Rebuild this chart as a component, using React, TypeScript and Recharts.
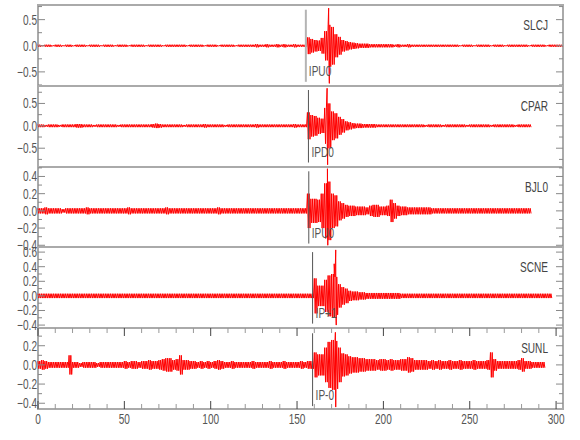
import {
  Line,
  LineChart,
  ReferenceArea,
  ReferenceDot,
  ReferenceLine,
  XAxis,
  YAxis,
} from "recharts";

// station traces, top to bottom
const stations = ["SLCJ", "CPAR", "BJL0", "SCNE", "SUNL"];
const pickLabels = ["IPU0", "IPD0", "IPU0", "IP+1", "IP-0"];
const pickTimes = [155.1, 156.6, 156.8, 159.0, 159.0];

// envelope half-width in 0.01 units, one value per 2 s bin
const slcjAmp = [
  2, 1, 2, 2, 1, 2, 2, 1, 2, 2,
  1, 2, 2, 2, 1, 2, 2, 2, 1, 2,
  2, 2, 1, 2, 2, 2, 1, 2, 2, 2,
  2, 1, 2, 2, 2, 2, 1, 2, 2, 2,
  2, 2, 2, 1, 2, 2, 2, 2, 1, 2,
  2, 2, 1, 2, 2, 2, 2, 1, 2, 2,
  2, 2, 2, 3, 2, 2, 3, 2, 2, 3,
  2, 3, 2, 2, 3, 2, 2, 2, 16, 13,
  11, 10, 15, 28, 40, 36, 22, 17, 11, 9,
  7, 6, 5, 4, 4, 4, 3, 3, 3, 3,
  3, 3, 3, 2, 3, 2, 2, 3, 2, 2,
  2, 2, 2, 2, 2, 2, 2, 2, 2, 2,
  2, 2, 1, 2, 2, 2, 1, 2, 2, 2,
  2, 1, 2, 2, 2, 1, 2, 2, 2, 2,
  2, 2, 1, 2, 2, 2, 2, 1, 2, 2,
  2, 2,
];
const cparAmp = [
  3, 3, 2, 3, 3, 3, 2, 3, 3, 3,
  3, 4, 4, 3, 3, 3, 2, 3, 3, 3,
  3, 3, 3, 2, 3, 3, 3, 3, 3, 3,
  3, 3, 3, 4, 5, 4, 3, 3, 3, 3,
  3, 3, 2, 3, 3, 3, 3, 3, 4, 3,
  3, 3, 3, 3, 2, 3, 3, 3, 3, 3,
  3, 3, 3, 4, 3, 3, 3, 3, 3, 3,
  3, 3, 3, 3, 4, 3, 3, 3, 30, 24,
  22, 18, 16, 40, 50, 32, 28, 20, 15, 10,
  8, 6, 5, 5, 4, 4, 4, 4, 3, 3,
  3, 3, 3, 3, 3, 3, 3, 3, 3, 3,
  3, 3, 2, 3, 3, 3, 3, 2, 3, 3,
  3, 3, 3, 3, 2, 3, 3, 3, 3, 3,
  3, 2, 3, 3, 3, 3, 3, 3, 2, 3,
  3, 3, 3,
];
const bjloAmp = [
  3, 3, 4, 3, 3, 3, 3, 2, 3, 3,
  3, 3, 3, 3, 4, 3, 3, 3, 3, 3,
  3, 3, 3, 3, 3, 3, 4, 3, 3, 3,
  3, 3, 3, 3, 3, 3, 3, 4, 3, 3,
  3, 3, 3, 3, 3, 3, 3, 3, 3, 3,
  3, 3, 4, 3, 3, 3, 3, 3, 3, 3,
  3, 3, 3, 3, 3, 3, 3, 3, 3, 3,
  3, 3, 3, 3, 3, 3, 3, 3, 20, 14,
  14, 13, 20, 32, 34, 20, 18, 11, 9, 7,
  6, 6, 5, 5, 5, 4, 6, 7, 7, 5,
  5, 6, 13, 9, 6, 5, 5, 4, 4, 4,
  4, 4, 4, 4, 3, 3, 3, 3, 3, 3,
  3, 3, 3, 3, 3, 3, 3, 3, 3, 3,
  3, 3, 3, 3, 3, 3, 3, 3, 3, 3,
  3, 3, 3,
];
const scneAmp = [
  3, 3, 3, 3, 3, 3, 3, 3, 3, 3,
  3, 3, 3, 3, 3, 3, 3, 3, 3, 3,
  3, 3, 3, 3, 3, 3, 3, 3, 3, 3,
  3, 3, 3, 3, 3, 3, 3, 3, 3, 3,
  3, 3, 3, 3, 3, 3, 3, 3, 3, 3,
  3, 3, 3, 3, 3, 3, 3, 3, 3, 3,
  3, 3, 3, 3, 3, 3, 3, 3, 3, 3,
  3, 3, 3, 3, 3, 3, 3, 3, 3, 3,
  24, 14, 14, 22, 28, 30, 26, 16, 12, 10,
  7, 6, 6, 5, 5, 4, 4, 4, 4, 4,
  4, 4, 4, 4, 4, 3, 3, 3, 3, 3,
  3, 3, 3, 3, 3, 3, 3, 3, 3, 3,
  3, 3, 3, 3, 3, 3, 3, 3, 3, 3,
  3, 3, 3, 3, 3, 3, 3, 3, 3, 3,
  3, 3, 3, 3, 3, 3, 3, 3, 3,
];
const sunlAmp = [
  4, 5, 4, 3, 3, 3, 3, 3, 3, 10,
  3, 3, 2, 3, 3, 3, 3, 2, 3, 3,
  3, 3, 3, 3, 3, 4, 3, 4, 4, 3,
  4, 4, 5, 4, 4, 5, 6, 7, 7, 5,
  6, 10, 5, 5, 4, 4, 3, 4, 3, 4,
  3, 4, 5, 4, 3, 3, 4, 3, 3, 3,
  3, 3, 4, 3, 3, 3, 3, 4, 3, 3,
  3, 4, 3, 3, 3, 3, 4, 3, 4, 4,
  13, 11, 11, 18, 24, 26, 25, 18, 12, 11,
  9, 8, 8, 7, 7, 6, 6, 6, 5, 6,
  6, 5, 6, 5, 5, 6, 6, 8, 7, 5,
  5, 5, 5, 4, 5, 4, 5, 4, 4, 5,
  4, 4, 5, 4, 4, 4, 5, 4, 4, 4,
  5, 13, 6, 4, 4, 4, 4, 4, 4, 5,
  7, 4, 4, 3, 3, 3, 3,
];

// single peaks that stand out of the envelope: [time, value]
const slcjSpikes = [[168.3, 0.72], [168.7, -0.72]];
const cparSpikes = [[167.4, 0.84], [167.7, -0.87]];
const bjloSpikes = [[167.6, 0.49], [167.8, -0.4]];
const scneSpikes = [[171.5, 0.44], [172.4, 0.63], [172.7, -0.4]];
const sunlSpikes = [[172.2, 0.34], [172.4, -0.44]];

const xTicks = [
  0, 10, 20, 30, 40, 50, 60, 70, 80, 90, 100, 110, 120, 130, 140, 150, 160,
  170, 180, 190, 200, 210, 220, 230, 240, 250, 260, 270, 280, 290, 300,
];

type PanelCfg = {
  amp: number[];
  spikes: number[][];
  domain: [number, number];
  ticks: number[];
  labels: number[];
  pickSpan: [number, number];
  pickLabelY: number;
  pickColor: string;
  pickWidth: number;
  top: number;
  height: number;
};

const panels: PanelCfg[] = [
  {
    amp: slcjAmp,
    spikes: slcjSpikes,
    domain: [-0.77, 0.78],
    ticks: [-0.75, -0.5, -0.25, 0, 0.25, 0.5, 0.75],
    labels: [-0.5, 0, 0.5],
    pickSpan: [-0.69, 0.69],
    pickLabelY: -0.49,
    pickColor: "#b4b4b4",
    pickWidth: 2,
    top: 5,
    height: 81,
  },
  {
    amp: cparAmp,
    spikes: cparSpikes,
    domain: [-0.92, 0.89],
    ticks: [-0.75, -0.5, -0.25, 0, 0.25, 0.5, 0.75],
    labels: [-0.5, 0, 0.5],
    pickSpan: [-0.82, 0.8],
    pickLabelY: -0.59,
    pickColor: "#555",
    pickWidth: 1,
    top: 86,
    height: 81,
  },
  {
    amp: bjloAmp,
    spikes: bjloSpikes,
    domain: [-0.42, 0.51],
    ticks: [-0.4, -0.3, -0.2, -0.1, 0, 0.1, 0.2, 0.3, 0.4, 0.5],
    labels: [-0.4, -0.2, 0, 0.2, 0.4],
    pickSpan: [-0.38, 0.46],
    pickLabelY: -0.26,
    pickColor: "#555",
    pickWidth: 1,
    top: 167,
    height: 80,
  },
  {
    amp: scneAmp,
    spikes: scneSpikes,
    domain: [-0.44, 0.67],
    ticks: [-0.4, -0.3, -0.2, -0.1, 0, 0.1, 0.2, 0.3, 0.4, 0.5, 0.6],
    labels: [-0.4, -0.2, 0, 0.2, 0.4, 0.6],
    pickSpan: [-0.38, 0.6],
    pickLabelY: -0.24,
    pickColor: "#555",
    pickWidth: 1,
    top: 247,
    height: 81,
  },
  {
    amp: sunlAmp,
    spikes: sunlSpikes,
    domain: [-0.46, 0.385],
    ticks: [-0.4, -0.3, -0.2, -0.1, 0, 0.1, 0.2, 0.3],
    labels: [-0.4, -0.2, 0, 0.2],
    pickSpan: [-0.43, 0.33],
    pickLabelY: -0.31,
    pickColor: "#555",
    pickWidth: 1,
    top: 328,
    height: 81,
  },
];

const FONT = "'Liberation Sans', Arial, sans-serif";
const PLOT_W = 525;
const AXIS_H = 30;

// each 2 s bin is drawn as a swing between +amp and -amp
function buildRows(amp: number[], spikes: number[][]) {
  const rows: { t: number; v: number }[] = [];
  amp.forEach((a, i) => {
    const v = a / 100;
    rows.push({ t: i * 2, v });
    rows.push({ t: i * 2 + 0.5, v: -v });
    rows.push({ t: i * 2 + 1, v });
    rows.push({ t: i * 2 + 1.5, v: -v });
  });
  spikes.forEach(([t, v]) => rows.push({ t, v }));
  return rows.sort((p, q) => p.t - q.t);
}

function fmt(v: number) {
  if (Math.abs(v) < 1e-9) return "0.0";
  return (v < 0 ? "\u2212" : "") + Math.abs(v).toFixed(1);
}

function NarrowText({
  x,
  y,
  anchor,
  fill,
  children,
}: {
  x: number;
  y: number;
  anchor: "start" | "middle" | "end";
  fill: string;
  children: any;
}) {
  return (
    <text
      transform={`translate(${x},${y}) scale(0.72,1)`}
      textAnchor={anchor}
      fontSize={14}
      fontFamily={FONT}
      fill={fill}
    >
      {children}
    </text>
  );
}

function XTick(props: any) {
  const { x, y, payload, plotH, showLabel } = props;
  const major = payload.value % 50 === 0;
  const len = major ? 8 : 5;
  const col = major ? "#444" : "#999";
  return (
    <g>
      <line x1={x} x2={x} y1={y} y2={y - len} stroke={col} />
      <line x1={x} x2={x} y1={y - plotH} y2={y - plotH + len} stroke={col} />
      {showLabel && major && (
        <NarrowText x={x} y={y + 15} anchor="middle" fill="#555">
          {payload.value}
        </NarrowText>
      )}
    </g>
  );
}

function YTick(props: any) {
  const { x, y, payload, labels } = props;
  const v = payload.value;
  const isLabel = labels.some((l: number) => Math.abs(l - v) < 1e-6);
  const len = isLabel ? 7 : 4;
  return (
    <g>
      <line x1={x} x2={x + len} y1={y} y2={y} stroke="#888" />
      <line x1={x + PLOT_W} x2={x + PLOT_W - len} y1={y} y2={y} stroke="#888" />
      {isLabel && (
        <NarrowText x={x - 1} y={y + 5} anchor="end" fill="#555">
          {fmt(v)}
        </NarrowText>
      )}
    </g>
  );
}

function Panel({ cfg, index }: { cfg: PanelCfg; index: number }) {
  const last = index === panels.length - 1;
  const rows = buildRows(cfg.amp, cfg.spikes);
  const pickT = pickTimes[index];
  return (
    <div style={{ position: "absolute", left: 0, top: cfg.top }}>
      <LineChart
        width={580}
        height={cfg.height + (last ? AXIS_H : 0)}
        data={rows}
        margin={{ top: 0, right: 17, bottom: 0, left: 0 }}
      >
        <XAxis
          type="number"
          dataKey="t"
          domain={[0, 304]}
          ticks={xTicks}
          interval={0}
          axisLine={false}
          tickLine={false}
          tickSize={0}
          tickMargin={0}
          height={last ? AXIS_H : 0}
          tick={(p: any) => (
            <XTick {...p} plotH={cfg.height} showLabel={last} />
          )}
        />
        <YAxis
          type="number"
          domain={cfg.domain}
          ticks={cfg.ticks}
          interval={0}
          width={38}
          axisLine={false}
          tickLine={false}
          tickSize={0}
          tickMargin={0}
          tick={(p: any) => <YTick {...p} labels={cfg.labels} />}
        />
        <Line
          dataKey="v"
          type="linear"
          stroke="#ff0000"
          strokeWidth={1}
          dot={false}
          isAnimationActive={false}
        />
        <ReferenceLine
          segment={[
            { x: pickT, y: cfg.pickSpan[0] },
            { x: pickT, y: cfg.pickSpan[1] },
          ]}
          stroke={cfg.pickColor}
          strokeWidth={cfg.pickWidth}
        />
        <ReferenceDot
          x={pickT}
          y={cfg.pickLabelY}
          r={0}
          fill="none"
          stroke="none"
          label={(p: any) => (
            <NarrowText
              x={p.viewBox.x + 3}
              y={p.viewBox.y + 5}
              anchor="start"
              fill="#555"
            >
              {pickLabels[index]}
            </NarrowText>
          )}
        />
        <ReferenceArea
          x1={0}
          x2={304}
          y1={cfg.domain[0]}
          y2={cfg.domain[1]}
          fill="none"
          stroke="#aaa"
          strokeWidth={2}
          label={(p: any) => (
            <NarrowText
              x={p.viewBox.x + p.viewBox.width - 15}
              y={p.viewBox.y + 25}
              anchor="end"
              fill="#444"
            >
              {stations[index]}
            </NarrowText>
          )}
        />
      </LineChart>
    </div>
  );
}

export default function App() {
  return (
    <div
      style={{
        position: "absolute",
        left: 0,
        top: 0,
        width: 580,
        height: 440,
        background: "#fff",
        fontFamily: FONT,
      }}
    >
      <style>{`.recharts-surface { overflow: visible; }`}</style>
      {panels.map((cfg, i) => (
        <Panel cfg={cfg} index={i} key={stations[i]} />
      ))}
    </div>
  );
}
